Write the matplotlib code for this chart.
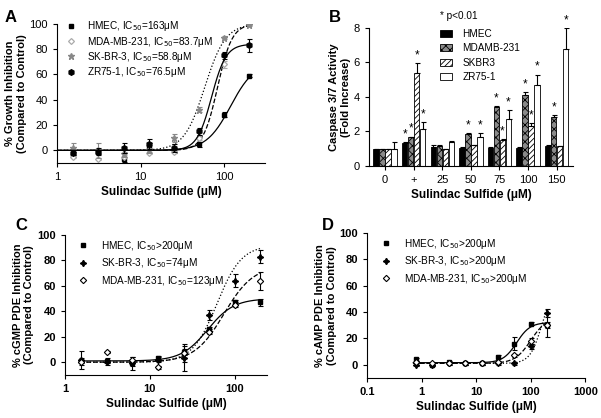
import numpy as np
import matplotlib
matplotlib.use("Agg")
import matplotlib.pyplot as plt

plt.rcParams['font.family'] = ['Liberation Sans', 'DejaVu Sans']
plt.rcParams['hatch.linewidth'] = 0.6

# ---------- panel A: growth inhibition ----------
conc_a = [1.5625, 3.125, 6.25, 12.5, 25, 50, 100, 200]
hmec_a = [-3, -1, -7, 3, 0, 5, 28, 59]
hmec_a_err = [2, 2, 2, 3, 2, 2, 2, 1]
mda_a = [-5, -7, -5, -2, -1, 10, 68, 100]
mda_a_err = [1, 1, 1, 1, 1, 2, 3, 1]
skbr3_a = [2, 0, -3, 0, 10, 32, 89, 99]
skbr3_a_err = [4, 6, 2, 2, 3, 2, 1, 1]
zr75_a = [-2, -1, 2, 5, 2, 15, 75, 83]
zr75_a_err = [2, 3, 4, 4, 3, 3, 3, 5]
labels_a = ['HMEC, IC$_{50}$=163μM', 'MDA-MB-231, IC$_{50}$=83.7μM',
            'SK-BR-3, IC$_{50}$=58.8μM', 'ZR75-1, IC$_{50}$=76.5μM']
# fitted curve parameters (bottom, top, EC50, hill)
fit_a = [(0, 70, 120, 3), (0, 100, 83.7, 5), (0, 100, 58.8, 3.5), (0, 84, 70.8, 5)]

# ---------- panel B: caspase 3/7 ----------
groups_b = ['0', '+', '25', '50', '75', '100', '150']
hmec_b = [1.0, 1.35, 1.1, 1.05, 1.05, 1.05, 1.15]
hmec_b_err = [0, 0.03, 0.1, 0.05, 0.03, 0.02, 0.05]
mda_b = [1.0, 1.65, 1.15, 1.85, 3.4, 4.1, 2.85]
mda_b_err = [0, 0.05, 0.05, 0.05, 0.05, 0.2, 0.1]
skbr3_b = [1.0, 5.4, 1.0, 1.2, 1.5, 2.3, 1.15]
skbr3_b_err = [0, 0.55, 0, 0.03, 0.05, 0.2, 0.03]
zr75_b = [1.0, 2.15, 1.4, 1.65, 2.7, 4.7, 6.8]
zr75_b_err = [0.4, 0.4, 0.05, 0.25, 0.55, 0.6, 1.2]
star_hmec = [False, True, False, False, False, False, False]
star_mda = [False, True, False, True, True, True, True]
star_skbr3 = [False, True, False, False, True, True, False]
star_zr75 = [False, True, False, True, True, True, True]
labels_b = ['HMEC', 'MDAMB-231', 'SKBR3', 'ZR75-1']

# ---------- panel C: cGMP PDE ----------
conc_c = [1.5625, 3.125, 6.25, 12.5, 25, 50, 100, 200]
hmec_c = [1, 1, -1, 3, 8, 26, 47, 47]
hmec_c_err = [2, 2, 2, 2, 2, 2, 2, 3]
skbr3_c = [2, 0, -1, 2, 3, 37, 64, 83]
skbr3_c_err = [7, 2, 5, 2, 10, 4, 5, 5]
mda_c = [0, 8, 2, -4, 7, 24, 45, 64]
mda_c_err = [2, 1, 2, 1, 7, 2, 2, 7]
labels_c = ['HMEC, IC$_{50}$>200μM', 'SK-BR-3, IC$_{50}$=74μM', 'MDA-MB-231, IC$_{50}$=123μM']
fit_c = [(1, 50, 48, 2.8), (0, 92, 62, 3.0), (0, 76, 75, 2.5)]

# ---------- panel D: cAMP PDE ----------
conc_d = [0.78, 1.5625, 3.125, 6.25, 12.5, 25, 50, 100, 200]
hmec_d = [4, 0, 2, 1, 1, 6, 16, 31, 30]
hmec_d_err = [1, 1, 1, 1, 1, 1, 5, 1, 2]
skbr3_d = [0, 0, 1, 1, 1, 1, 1, 14, 39]
skbr3_d_err = [1, 1, 1, 1, 1, 1, 1, 2, 3]
mda_d = [2, 1, 1, 1, 1, 2, 7, 18, 30]
mda_d_err = [1, 1, 1, 1, 1, 1, 1, 2, 9]
labels_d = ['HMEC, IC$_{50}$>200μM', 'SK-BR-3, IC$_{50}$>200μM', 'MDA-MB-231, IC$_{50}$>200μM']
fit_d = [(1.5, 32, 55, 3.5), (1, 60, 160, 4), (1, 36, 100, 3)]


def hill(x, p):
    b, t, ec, h = p
    return b + (t - b) / (1 + (ec / x) ** h)


def style_log(ax, xlim, ticks, bold_ticks):
    ax.set_xscale('log')
    ax.set_xlim(*xlim)
    ax.set_ylim(-10, 100)
    ax.set_xticks(ticks)
    ax.set_xticklabels([('%g' % t) for t in ticks])
    ax.xaxis.set_minor_locator(matplotlib.ticker.NullLocator())
    ax.set_yticks([0, 20, 40, 60, 80, 100])
    for s in ['top', 'right']:
        ax.spines[s].set_visible(False)
    ax.tick_params(labelsize=8, length=3, direction='out')
    if bold_ticks:
        for lab in ax.get_xticklabels() + ax.get_yticklabels():
            lab.set_fontweight('bold')
    ax.set_xlabel('Sulindac Sulfide (μM)', fontsize=8.5, fontweight='bold', labelpad=3)


def draw_series(ax, x, y, e, m, ecol, lab):
    ax.errorbar(x, y, yerr=e, fmt='none', capsize=1.8, elinewidth=0.8, ecolor=ecol, capthick=0.8)
    ax.plot(x, y, ls='none', label=lab, **m)


fig = plt.figure(figsize=(6.01, 4.18), dpi=100)

# Panel A
axA = fig.add_axes([0.095, 0.610, 0.346, 0.333])
markers_a = [dict(marker='s', color='black', mfc='black', ms=3.2),
             dict(marker='D', color='#aaaaaa', mfc='white', ms=3, mew=0.9),
             dict(marker='*', color='#888888', mfc='#888888', ms=4.5),
             dict(marker='h', color='black', mfc='black', ms=4)]
styles_a = ['-', '--', ':', '-']
xs = np.logspace(0, np.log10(200), 200)
for y, e, m, ls, p, lab in zip([hmec_a, mda_a, skbr3_a, zr75_a],
                               [hmec_a_err, mda_a_err, skbr3_a_err, zr75_a_err],
                               markers_a, styles_a, fit_a, labels_a):
    axA.plot(xs, hill(xs, p), ls, color='black', lw=0.9)
    draw_series(axA, conc_a, y, e, m, m['color'], lab)
style_log(axA, (1, 310), [1, 10, 100], False)
axA.set_ylabel('% Growth Inhibition\n(Compared to Control)', fontsize=8, fontweight='bold', labelpad=2)
axA.legend(loc='upper left', bbox_to_anchor=(0.02, 1.06), frameon=False, fontsize=7.2,
           handlelength=1.2, handletextpad=1.0, labelspacing=0.12, borderaxespad=0.0)

# Panel B
axB = fig.add_axes([0.614, 0.603, 0.339, 0.330])
xb = np.arange(len(groups_b))
w = 0.19
fills = [dict(color='black', edgecolor='black'),
         dict(color='#8a8a8a', edgecolor='black', hatch='xxxx'),
         dict(color='white', edgecolor='black', hatch='//////'),
         dict(color='white', edgecolor='black')]
allvals = [hmec_b, mda_b, skbr3_b, zr75_b]
allerr = [hmec_b_err, mda_b_err, skbr3_b_err, zr75_b_err]
allstar = [star_hmec, star_mda, star_skbr3, star_zr75]
for i, (v, e, st, f, lab) in enumerate(zip(allvals, allerr, allstar, fills, labels_b)):
    pos = xb + (i - 1.5) * (w + 0.02)
    axB.bar(pos, v, width=w, lw=0.6, label=lab, **f)
    axB.errorbar(pos, v, yerr=[np.zeros(len(e)), e], fmt='none', ecolor='black',
                 elinewidth=0.8, capsize=1.8, capthick=0.8)
    for px, vv, ee, s in zip(pos, v, e, st):
        if s:
            axB.text(px, vv + ee + 0.1, '*', ha='center', va='bottom', fontsize=8.5)
axB.set_xlim(-0.56, 6.56)
axB.set_ylim(0, 8)
axB.set_xticks(xb)
axB.set_xticklabels(groups_b)
axB.set_yticks([0, 2, 4, 6, 8])
for s in ['top', 'right']:
    axB.spines[s].set_visible(False)
axB.tick_params(labelsize=8, length=3)
axB.set_xlabel('Sulindac Sulfide (μM)', fontsize=8.5, fontweight='bold', labelpad=3)
axB.set_ylabel('Caspase 3/7 Activity\n(Fold Increase)', fontsize=8, fontweight='bold', labelpad=2)
axB.legend(loc='upper left', bbox_to_anchor=(0.33, 1.02), frameon=False, fontsize=7.2,
           handlelength=1.2, handleheight=0.7, handletextpad=1.0, labelspacing=0.42,
           borderaxespad=0.0)
axB.text(0.35, 1.09, '* p<0.01', transform=axB.transAxes, fontsize=7.2, va='center')

# Panel C
axC = fig.add_axes([0.108, 0.103, 0.336, 0.335])
markers_c = [dict(marker='s', color='black', mfc='black', ms=3.2),
             dict(marker=(4, 1, 0), color='black', mfc='black', ms=4.5),
             dict(marker='D', color='black', mfc='white', ms=3.2, mew=0.8)]
styles_c = ['-', ':', '--']
xs = np.logspace(np.log10(1.5), np.log10(200), 200)
for y, e, m, ls, p, lab in zip([hmec_c, skbr3_c, mda_c], [hmec_c_err, skbr3_c_err, mda_c_err],
                               markers_c, styles_c, fit_c, labels_c):
    axC.plot(xs, hill(xs, p), ls, color='black', lw=0.9)
    draw_series(axC, conc_c, y, e, m, 'black', lab)
style_log(axC, (1, 240), [1, 10, 100], True)
axC.set_ylabel('% cGMP PDE Inhibition\n(Compared to Control)', fontsize=8, fontweight='bold', labelpad=2)
axC.legend(loc='upper left', bbox_to_anchor=(0.04, 1.0), frameon=False, fontsize=7.2,
           handlelength=1.2, handletextpad=1.2, labelspacing=0.35, borderaxespad=0.0)

# Panel D
axD = fig.add_axes([0.611, 0.096, 0.363, 0.347])
xs = np.logspace(np.log10(0.7), np.log10(200), 200)
for y, e, m, ls, p, lab in zip([hmec_d, skbr3_d, mda_d], [hmec_d_err, skbr3_d_err, mda_d_err],
                               markers_c, styles_c, fit_d, labels_d):
    axD.plot(xs, hill(xs, p), ls, color='black', lw=0.9)
    draw_series(axD, conc_d, y, e, m, 'black', lab)
style_log(axD, (0.1, 1000), [0.1, 1, 10, 100, 1000], True)
axD.set_ylabel('% cAMP PDE Inhibition\n(Compared to Control)', fontsize=8, fontweight='bold', labelpad=2)
axD.legend(loc='upper left', bbox_to_anchor=(0.04, 1.0), frameon=False, fontsize=7.2,
           handlelength=1.2, handletextpad=1.2, labelspacing=0.35, borderaxespad=0.0)

for lab, x, y in [('A', 0.008, 0.975), ('B', 0.548, 0.975), ('C', 0.025, 0.478), ('D', 0.535, 0.478)]:
    fig.text(x, y, lab, fontsize=12, fontweight='bold', va='top')

fig.savefig('out.png', dpi=100)
